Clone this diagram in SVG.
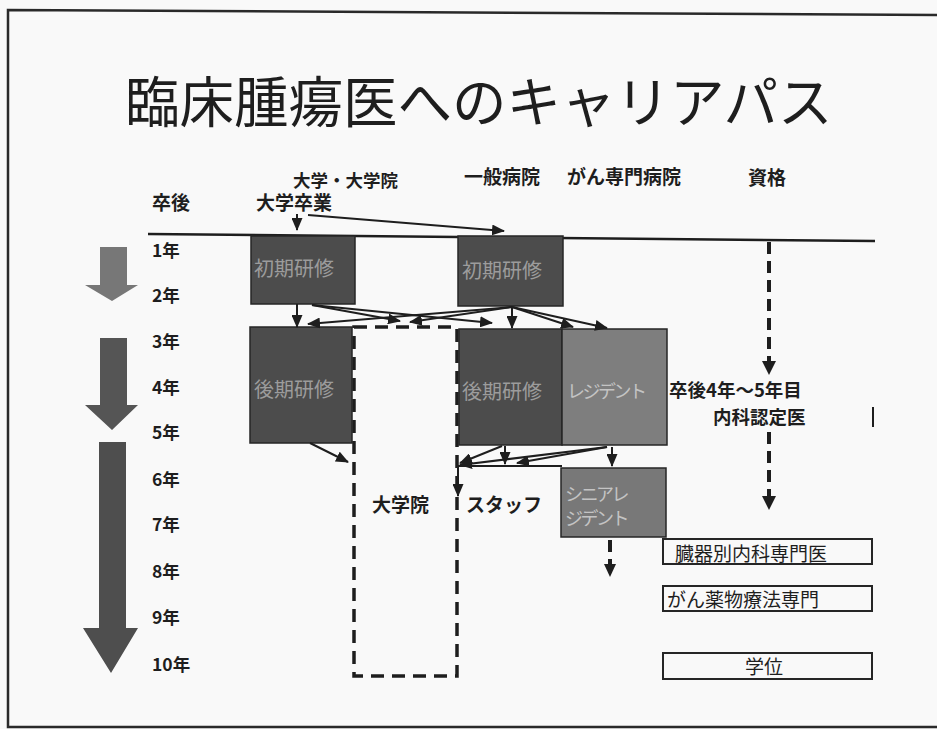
<svg xmlns="http://www.w3.org/2000/svg" width="937" height="729" viewBox="0 0 937 729">
<style>
.t{font-family:"Noto Sans CJK JP","Noto Sans",sans-serif;fill:#1e1e1e}
.b{font-weight:bold}
.hd{font-size:19px;font-weight:bold}
.yr{font-size:17.5px;font-weight:bold}
.bx{stroke:#262626;stroke-width:1.5}
.dark{fill:#4c4c4c}
.mid{fill:#7e7e7e}
.bt{font-family:"Noto Sans CJK JP","Noto Sans",sans-serif;font-size:20px;fill:#9c9c9c}
.bk{font-family:"Noto Sans CJK JP","Noto Sans",sans-serif;font-size:18px;fill:#c4c4c4;letter-spacing:-2.5px}
.q{fill:none;stroke:#262626;stroke-width:2}
.qt{font-family:"Noto Sans CJK JP","Noto Sans",sans-serif;font-size:19px;fill:#1e1e1e}
.ln{stroke:#1e1e1e;stroke-width:2;fill:none}
.ar{marker-end:url(#ah)}
.dsh{stroke:#1e1e1e;stroke-width:4;stroke-dasharray:12 7;fill:none}
.big{stroke:none}
</style>
<defs>
<marker id="ah" markerUnits="userSpaceOnUse" markerWidth="13" markerHeight="11" refX="12" refY="5.5" orient="auto">
<path d="M0,0 L13,5.5 L0,11 z" fill="#1e1e1e"/>
</marker>
</defs>
<rect x="0" y="0" width="937" height="729" fill="#f9f9f9"/>
<!-- frame -->
<g id="frame">
<path d="M937,15 L8,10 L8,727 L937,727" fill="none" stroke="#2a2a2a" stroke-width="2.5"/>
</g>
<!-- title -->
<g id="title">
<text class="t" x="125" y="122" font-size="54.5">臨床腫瘍医へのキャリアパス</text>
</g>
<!-- headers -->
<g id="headers">
<text class="t hd" x="293" y="187" style="font-size:17.5px">大学・大学院</text>
<text class="t hd" x="464" y="184">一般病院</text>
<text class="t hd" x="567" y="184">がん専門病院</text>
<text class="t hd" x="748" y="185">資格</text>
<text class="t hd" x="152" y="210">卒後</text>
<text class="t hd" x="256" y="210">大学卒業</text>
</g>
<!-- timeline -->
<g id="timeline">
<line x1="148" y1="234" x2="875" y2="241" stroke="#1e1e1e" stroke-width="2.5"/>
<text class="t yr" x="152" y="257">1年</text>
<text class="t yr" x="152" y="302">2年</text>
<text class="t yr" x="152" y="348">3年</text>
<text class="t yr" x="152" y="394">4年</text>
<text class="t yr" x="152" y="439">5年</text>
<text class="t yr" x="152" y="486">6年</text>
<text class="t yr" x="152" y="531">7年</text>
<text class="t yr" x="152" y="578">8年</text>
<text class="t yr" x="152" y="624">9年</text>
<text class="t yr" x="152" y="671">10年</text>
</g>
<!-- big arrows -->
<g id="year-arrows">
<path class="big" d="M100,247 L127,247 L127,285 L138,285 L112,301 L85,285 L100,285 z" fill="#777" stroke="#555" stroke-width="1"/>
<path class="big" d="M100,338 L127,338 L127,405 L138,405 L112,430 L85,405 L100,405 z" fill="#555" stroke="#3a3a3a" stroke-width="1"/>
<path class="big" d="M99,442 L126,442 L126,628 L138,628 L111,673 L83,628 L99,628 z" fill="#4e4e4e" stroke="#3a3a3a" stroke-width="1"/>
</g>
<!-- nodes -->
<g id="uni-initial">
<rect class="bx dark" x="251" y="236" width="104" height="68"/>
<text class="bt" x="254" y="276">初期研修</text>
</g>
<g id="gen-initial">
<rect class="bx dark" x="458" y="236" width="105" height="70"/>
<text class="bt" x="462" y="278">初期研修</text>
</g>
<g id="uni-late">
<rect class="bx dark" x="250" y="327" width="102" height="116"/>
<text class="bt" x="254" y="397">後期研修</text>
</g>
<g id="gen-late">
<rect class="bx dark" x="459" y="329" width="103" height="116"/>
<text class="bt" x="462" y="399">後期研修</text>
</g>
<g id="resident">
<rect class="bx mid" x="562" y="329" width="105" height="116"/>
<text class="bk" x="567" y="398">レジデント</text>
</g>
<g id="senior-resident">
<rect class="bx" x="561" y="468" width="105" height="69" fill="#787878"/>
<text class="bk" x="565" y="501">シニアレ</text>
<text class="bk" x="565" y="525">ジデント</text>
</g>
<g id="grad-school">
<rect x="354" y="327" width="103" height="349" fill="none" stroke="#1e1e1e" stroke-width="3.5" stroke-dasharray="13 8"/>
<text class="t hd" x="372" y="512">大学院</text>
</g>
<g id="staff">
<text class="t hd" x="466" y="512">スタッフ</text>
</g>
<g id="qual-internal">
<text class="t hd" x="669" y="397" style="font-size:18.5px">卒後4年～5年目</text>
<text class="t hd" x="713" y="424" style="font-size:18.5px">内科認定医</text>
</g>
<g id="qual-organ">
<rect class="q" x="663" y="539" width="209" height="25"/>
<text class="qt" x="675" y="561">臓器別内科専門医</text>
</g>
<g id="qual-chemo">
<rect class="q" x="663" y="586" width="209" height="25"/>
<text class="qt" x="667" y="607">がん薬物療法専門</text>
</g>
<g id="qual-degree">
<rect class="q" x="663" y="653" width="209" height="26"/>
<text class="qt" x="745" y="674">学位</text>
</g>
<!-- connectors -->
<g id="connectors">
<line class="ln ar" x1="297" y1="214" x2="297" y2="230"/>
<line class="ln ar" x1="308" y1="215" x2="504" y2="231"/>
<line class="ln ar" x1="297" y1="304" x2="297" y2="327"/>
<line class="ln ar" x1="312" y1="305" x2="400" y2="321"/>
<line class="ln ar" x1="312" y1="305" x2="492" y2="323"/>
<line class="ln ar" x1="512" y1="307" x2="410" y2="322"/>
<line class="ln ar" x1="512" y1="307" x2="308" y2="324"/>
<line class="ln ar" x1="512" y1="307" x2="512" y2="328"/>
<line class="ln ar" x1="512" y1="307" x2="573" y2="327"/>
<line class="ln ar" x1="512" y1="307" x2="607" y2="328"/>
<line class="ln ar" x1="310" y1="443" x2="348" y2="462"/>
<line class="ln ar" x1="502" y1="446" x2="460" y2="463"/>
<line class="ln ar" x1="505" y1="446" x2="505" y2="464"/>
<line class="ln ar" x1="607" y1="447" x2="460" y2="465"/>
<line class="ln ar" x1="607" y1="447" x2="517" y2="463"/>
<line class="ln ar" x1="612" y1="447" x2="612" y2="466"/>
<line class="ln" x1="458" y1="466" x2="562" y2="466"/>
<line class="ln ar" x1="458" y1="466" x2="458" y2="496"/>
<line class="dsh" x1="769" y1="242" x2="769" y2="362"/>
<path d="M762,361 L776,361 L769,375 z" fill="#1e1e1e"/>
<line class="dsh" x1="769" y1="432" x2="769" y2="497"/>
<path d="M762,496 L776,496 L769,510 z" fill="#1e1e1e"/>
<line class="dsh" x1="610" y1="540" x2="610" y2="565" stroke-dasharray="8 5"/>
<path d="M604,564 L616,564 L610,577 z" fill="#1e1e1e"/>
<line x1="873" y1="407" x2="873" y2="427" stroke="#1e1e1e" stroke-width="2"/>
</g>
</svg>
